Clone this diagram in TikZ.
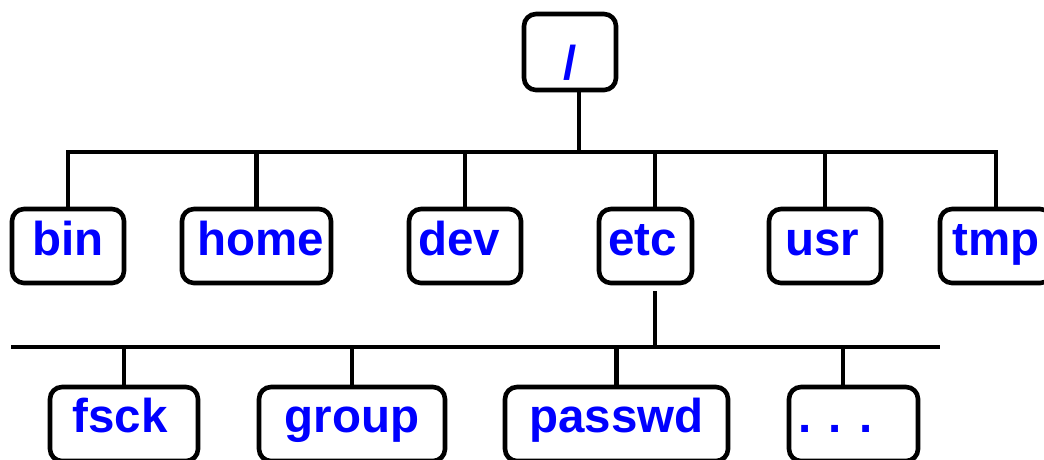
\documentclass[tikz,border=0pt]{standalone}
\usepackage{fontspec}
\setmainfont{Liberation Sans}
\definecolor{dirblue}{RGB}{0,0,255}
\tikzset{
  dirbox/.style={draw=black, line width=4.6pt, rounded corners=12pt, fill=white,
    inner sep=0pt, minimum height=74pt, text=dirblue,
    font=\fontsize{47.5}{52}\selectfont\bfseries, text height=30pt, text depth=12pt},
  rootbox/.style={dirbox, minimum width=92pt, minimum height=76pt, text height=60pt, text depth=6pt},
  link/.style={draw=black, line width=4.6pt}
}
\begin{document}
\begin{tikzpicture}[x=1pt,y=-1pt]
\useasboundingbox (0,0) rectangle (1044,459);
\clip (0,0) rectangle (1044,459);

% root directory
\node[rootbox] (root) at (570,52) {/};

% first level
\node[dirbox, minimum width=112pt] (bin)  at (68,246)    {bin};
\node[dirbox, minimum width=149pt] (home) at (256.5,246) {home\kern-8pt};
\node[dirbox, minimum width=112pt] (dev)  at (465,246)   {\kern-12pt dev};
\node[dirbox, minimum width=93pt]  (etc)  at (645.5,246) {\kern-6pt etc};
\node[dirbox, minimum width=112pt] (usr)  at (825,246)   {\kern-6pt usr};
\node[dirbox, minimum width=112pt] (tmp)  at (996,246)   {tmp};

% contents of /etc
\node[dirbox, minimum width=148pt, text height=28pt] (fsck)   at (124,424)   {\kern-8pt fsck};
\node[dirbox, minimum width=186pt, text height=28pt] (group)  at (352,424)   {group};
\node[dirbox, minimum width=223pt, text height=28pt] (passwd) at (616.5,424) {passwd};
\node[dirbox, minimum width=129pt, text height=28pt] (more)   at (853.5,424) {. . .\kern36pt};

% horizontal rails
\coordinate (railA) at (0,152);
\coordinate (railBl) at (11,347);
\coordinate (railBr) at (940,347);

% root to first level
\draw[link] ([xshift=9pt]root.south) -- ([xshift=9pt]root.south |- railA);
\draw[link] (bin.north) -- (bin.north |- railA) -- (tmp.north |- railA) -- (tmp.north);
\draw[link] (home.north) -- (home.north |- railA);
\draw[link] (dev.north) -- (dev.north |- railA);
\draw[link] ([xshift=9.5pt]etc.north) -- ([xshift=9.5pt]etc.north |- railA);
\draw[link] (usr.north) -- (usr.north |- railA);

% /etc to its entries
\draw[link] ([xshift=9.5pt,yshift=-6pt]etc.south) -- ([xshift=9.5pt]etc.south |- railBl);
\draw[link] (railBl) -- (railBr);
\draw[link] (fsck.north) -- (fsck.north |- railBl);
\draw[link] (group.north) -- (group.north |- railBl);
\draw[link] (passwd.north) -- (passwd.north |- railBl);
\draw[link] ([xshift=-10.5pt]more.north) -- ([xshift=-10.5pt]more.north |- railBl);
\end{tikzpicture}
\end{document}
